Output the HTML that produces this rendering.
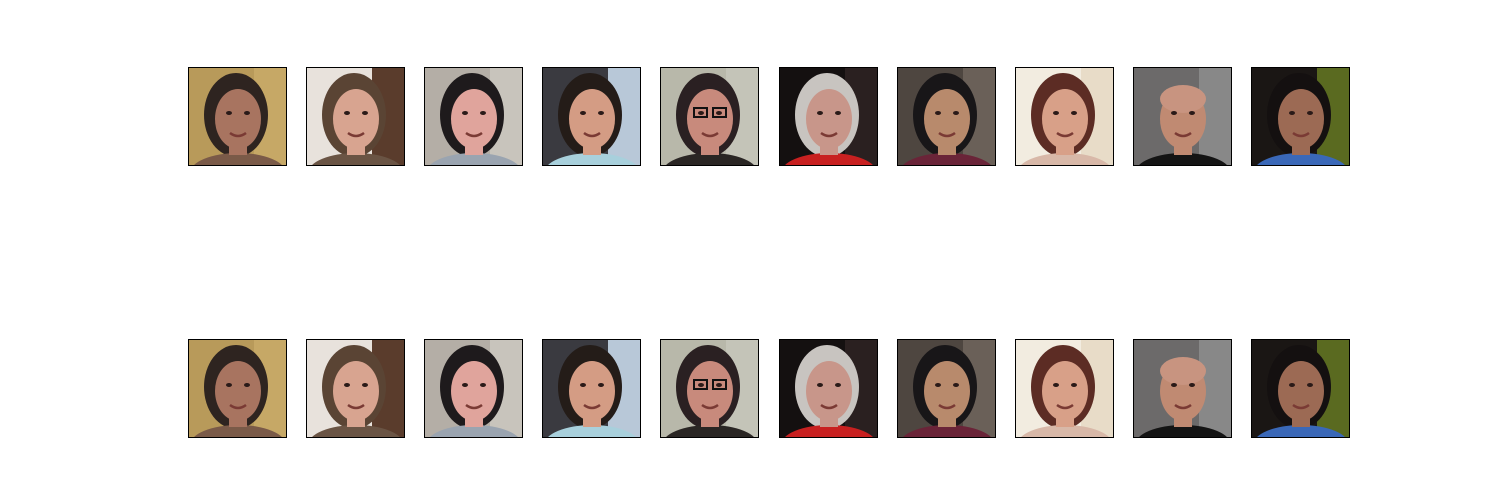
<!DOCTYPE html>
<html><head><meta charset="utf-8">
<style>
html,body{margin:0;padding:0;background:#fff;width:1500px;height:500px;overflow:hidden;font-family:"Liberation Sans",sans-serif;}
svg{display:block}
</style></head>
<body>
<svg id="fig" width="1500" height="500">
<defs><clipPath id="tile"><rect x="0" y="0" width="99" height="99"/></clipPath></defs>
</svg>
<script>
const faceBg=["#b89a5a","#e8e2dc","#b4aea6","#3a3a40","#b8b8aa","#141010","#4e4640","#f2ece0","#6c6a6a","#1a1614"];
const faceBg2=["#c6a866","#5a3c2c","#c8c4bc","#b8c8d8","#c4c4b8","#2a2020","#6a6058","#e8dcc8","#888888","#5a6a20"];
const hairColor=["#2e2420","#5a4434","#1e1a1c","#241c18","#2a2022","#c8c4c0","#181618","#5c2c24","#b88a74","#141010"];
const skinColor=["#a87460","#d8a490","#e0a49c","#d49c84","#c88a7c","#c8968a","#b88a6c","#d8a088","#c08a72","#9c6a54"];
const shirtColor=["#7a5a48","#6a5444","#9aa4b0","#a8d0dc","#2a2624","#c82020","#6a2438","#d8b8a8","#141414","#3a68b8"];
const cols=[188,306,424,542,660,779,897,1015,1133,1251];
const rows=[67,339];
const svg=document.getElementById('fig');
const NS="http://www.w3.org/2000/svg";
function mk(t,a){const e=document.createElementNS(NS,t);for(const k in a)e.setAttribute(k,a[k]);return e;}
rows.forEach((ry,ri)=>{
  cols.forEach((cx,i)=>{
    const g=mk('g',{transform:`translate(${cx},${ry})`});
    
    
    const c=mk('g',{'clip-path':'url(#tile)'});
    c.appendChild(mk('rect',{x:0,y:0,width:99,height:99,fill:faceBg[i]}));
    c.appendChild(mk('rect',{x:66,y:0,width:33,height:99,fill:faceBg2[i]}));
    if(i!==8) c.appendChild(mk('ellipse',{cx:48,cy:48,rx:32,ry:42,fill:hairColor[i]}));
    c.appendChild(mk('ellipse',{cx:50,cy:106,rx:48,ry:20,fill:shirtColor[i]}));
    c.appendChild(mk('rect',{x:41,y:70,width:18,height:18,fill:skinColor[i]}));
    c.appendChild(mk('ellipse',{cx:50,cy:52,rx:23,ry:30,fill:skinColor[i]}));
    if(i===8) c.appendChild(mk('ellipse',{cx:50,cy:32,rx:23,ry:14,fill:"#c89480"}));
    c.appendChild(mk('ellipse',{cx:41,cy:46,rx:3,ry:2,fill:"#2a1a18"}));
    c.appendChild(mk('ellipse',{cx:59,cy:46,rx:3,ry:2,fill:"#2a1a18"}));
    c.appendChild(mk('path',{d:"M42 66 Q50 72 58 66",stroke:"#7a3a34","stroke-width":2.5,fill:"none"}));
    if(i===4){c.appendChild(mk('rect',{x:34,y:41,width:13,height:9,fill:"none",stroke:"#111","stroke-width":2}));c.appendChild(mk('rect',{x:53,y:41,width:13,height:9,fill:"none",stroke:"#111","stroke-width":2}));}
    g.appendChild(c);
    g.appendChild(mk('rect',{x:0.5,y:0.5,width:98,height:98,fill:"none",stroke:"#000","stroke-width":1}));
    svg.appendChild(g);
  });
});
</script>
</body></html>
